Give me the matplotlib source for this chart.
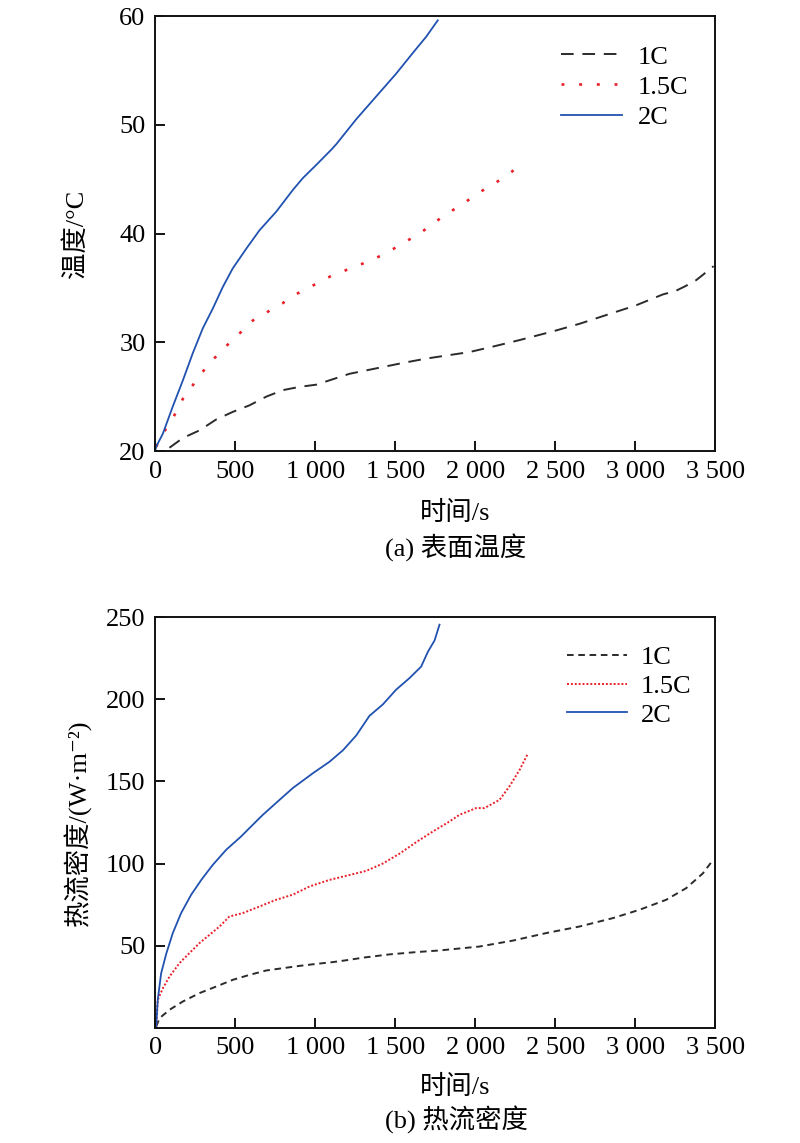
import matplotlib
matplotlib.use('Agg')
import matplotlib.pyplot as plt
from matplotlib.ticker import FixedLocator, FuncFormatter

plt.rcParams['font.family'] = ['Liberation Serif', 'Noto Sans CJK SC', 'DejaVu Sans']

FS = 19
BLACK = '#2b2b2b'
RED = '#e8202a'
BLUE = '#2152b0'

# (a) surface temperature, time in s, temperature in °C
t_1c_a = [89, 173, 277, 381, 485, 589, 694, 798, 902, 1006, 1110, 1214, 1381, 1548, 1694,
          1829, 1964, 2110, 2277, 2485, 2652, 2860, 3006, 3173, 3250, 3319, 3380, 3423, 3490]
temp_1c = [20.3, 21.2, 21.9, 22.9, 23.6, 24.2, 25.0, 25.6, 25.9, 26.1, 26.6, 27.1, 27.6, 28.1, 28.5,
           28.8, 29.1, 29.6, 30.2, 31.0, 31.7, 32.7, 33.4, 34.4, 34.7, 35.2, 35.7, 36.2, 37.0]

t_15c_a = [6, 69, 110, 141, 173, 214, 256, 298, 339, 381, 427, 475, 516, 569, 600, 652,
           694, 752, 798, 850, 891, 944, 996, 1048, 1100, 1162, 1214, 1329, 1444, 1548,
           1652, 1756, 1808, 1912, 2016, 2110, 2204, 2256, 2298]
temp_15c = [20.4, 22.1, 23.0, 23.9, 24.8, 25.6, 26.5, 27.3, 28.1, 28.7, 29.4, 30.1, 30.7, 31.3, 31.9, 32.4,
            32.7, 33.3, 33.6, 34.2, 34.5, 34.9, 35.3, 35.7, 36.1, 36.4, 36.8, 37.4, 38.2, 39.1,
            40.0, 41.1, 41.7, 42.6, 43.7, 44.5, 45.4, 46.0, 46.6]

t_2c_a = [0, 6, 48, 110, 173, 235, 298, 360, 423, 485, 569, 652, 756, 860, 923, 1006,
          1100, 1131, 1256, 1381, 1506, 1610, 1694, 1766]
temp_2c = [20.0, 20.4, 21.6, 24.1, 26.5, 29.0, 31.3, 33.1, 35.1, 36.8, 38.6, 40.3, 42.0, 44.0, 45.1, 46.3,
           47.7, 48.2, 50.5, 52.6, 54.7, 56.6, 58.1, 59.6]

# (b) heat flux density, W/m^2
t_1c_b = [6, 27, 89, 173, 277, 381, 485, 589, 694, 798, 902, 1006, 1110, 1214, 1298, 1464,
          1631, 1777, 2027, 2235, 2444, 2652, 2860, 3027, 3194, 3319, 3423, 3485]
q_1c = [0.6, 5.7, 10.8, 15.9, 21.0, 25.0, 29.1, 32.1, 34.8, 36.2, 37.6, 38.8, 39.9, 41.3, 42.6, 44.6,
        46.0, 47.0, 49.4, 53.0, 57.6, 61.6, 66.7, 71.8, 77.9, 85.0, 94.0, 102.0]

t_15c_b = [6, 16, 48, 89, 152, 214, 277, 339, 402, 464, 548, 652, 756, 860, 964, 1089,
           1214, 1319, 1423, 1527, 1631, 1735, 1839, 1902, 2006, 2058, 2152, 2214, 2277, 2329]
q_15c = [0.6, 16.9, 24.0, 31.0, 39.3, 45.4, 51.5, 56.5, 61.6, 67.7, 69.8, 73.8, 77.9, 81.0, 86.0, 90.0,
         93.0, 95.5, 100.0, 106.0, 113.0, 119.5, 125.6, 129.7, 133.8, 133.8, 138.8, 147.0, 157.0, 167.0]

t_2c_b = [6, 16, 37, 69, 110, 162, 225, 288, 360, 444, 537, 589, 673, 777, 860, 985,
          1089, 1173, 1256, 1339, 1423, 1506, 1589, 1662, 1704, 1746, 1777]
q_2c = [0.6, 16.9, 33.0, 45.0, 57.6, 69.8, 81.0, 90.0, 99.2, 108.4, 116.5, 121.6, 129.7, 138.8, 146.0, 155.0,
        162.0, 169.0, 178.0, 190.0, 197.0, 206.0, 213.0, 220.0, 229.0, 236.0, 245.6]

labels = ['1C', '1.5C', '2C']
x_ticks = [0, 500, 1000, 1500, 2000, 2500, 3000, 3500]


def fmt_thousands(v, pos):
    v = int(round(v))
    if v >= 1000:
        return '%d %03d' % (v // 1000, v % 1000)
    return str(v)


def style_axes(ax):
    ax.set_xlim(0, 3500)
    ax.xaxis.set_major_locator(FixedLocator(x_ticks))
    ax.xaxis.set_major_formatter(FuncFormatter(fmt_thousands))
    ax.tick_params(direction='in', length=7, width=1.3, labelsize=FS, pad=7,
                   top=False, right=False)
    for s in ax.spines.values():
        s.set_linewidth(1.4)
        s.set_color('#111111')
    ax.set_xlabel('时间/s', fontsize=FS)
    ax.xaxis.set_label_coords(0.535, -0.115)


fig = plt.figure(figsize=(8, 11.43), dpi=100)

# panel (a)
ax1 = fig.add_axes([0.194, 0.6054, 0.70, 0.3806])
ax1.plot(t_1c_a, temp_1c, color=BLACK, lw=1.4, dashes=(6.5, 4.5), label=labels[0])
ax1.plot(t_15c_a, temp_15c, color=RED, lw=1.9, dashes=(1.1, 5.6), label=labels[1])
ax1.plot(t_2c_a, temp_2c, color=BLUE, lw=1.3, label=labels[2])
ax1.set_ylim(20, 60)
ax1.yaxis.set_major_locator(FixedLocator([20, 30, 40, 50, 60]))
style_axes(ax1)
ax1.set_ylabel('温度/°C', fontsize=FS)
ax1.yaxis.set_label_coords(-0.12, 0.5)
ax1.legend(loc='upper left', bbox_to_anchor=(0.725, 0.933), frameon=False,
           fontsize=FS, handlelength=2.3, handletextpad=0.6, labelspacing=0.25,
           borderaxespad=0, borderpad=0)

# panel (b)
ax2 = fig.add_axes([0.194, 0.1010, 0.70, 0.3588])
ax2.plot(t_1c_b, q_1c, color=BLACK, lw=1.4, dashes=(3.4, 2.4), label=labels[0])
ax2.plot(t_15c_b, q_15c, color=RED, lw=1.4, dashes=(1.0, 1.0), label=labels[1])
ax2.plot(t_2c_b, q_2c, color=BLUE, lw=1.3, label=labels[2])
ax2.set_ylim(0, 250)
ax2.yaxis.set_major_locator(FixedLocator([50, 100, 150, 200, 250]))
style_axes(ax2)
ax2.set_ylabel('热流密度/(W·m⁻²)', fontsize=FS)
ax2.yaxis.set_label_coords(-0.113, 0.5)
ax2.legend(loc='upper left', bbox_to_anchor=(0.735, 0.931), frameon=False,
           fontsize=FS, handlelength=2.3, handletextpad=0.5, labelspacing=0.2,
           borderaxespad=0, borderpad=0)

fig.text(0.57, 1 - 548 / 1143, '(a) 表面温度', fontsize=FS, ha='center', va='center')
fig.text(0.57, 1 - 1120 / 1143, '(b) 热流密度', fontsize=FS, ha='center', va='center')

fig.savefig('out.png', dpi=100)
